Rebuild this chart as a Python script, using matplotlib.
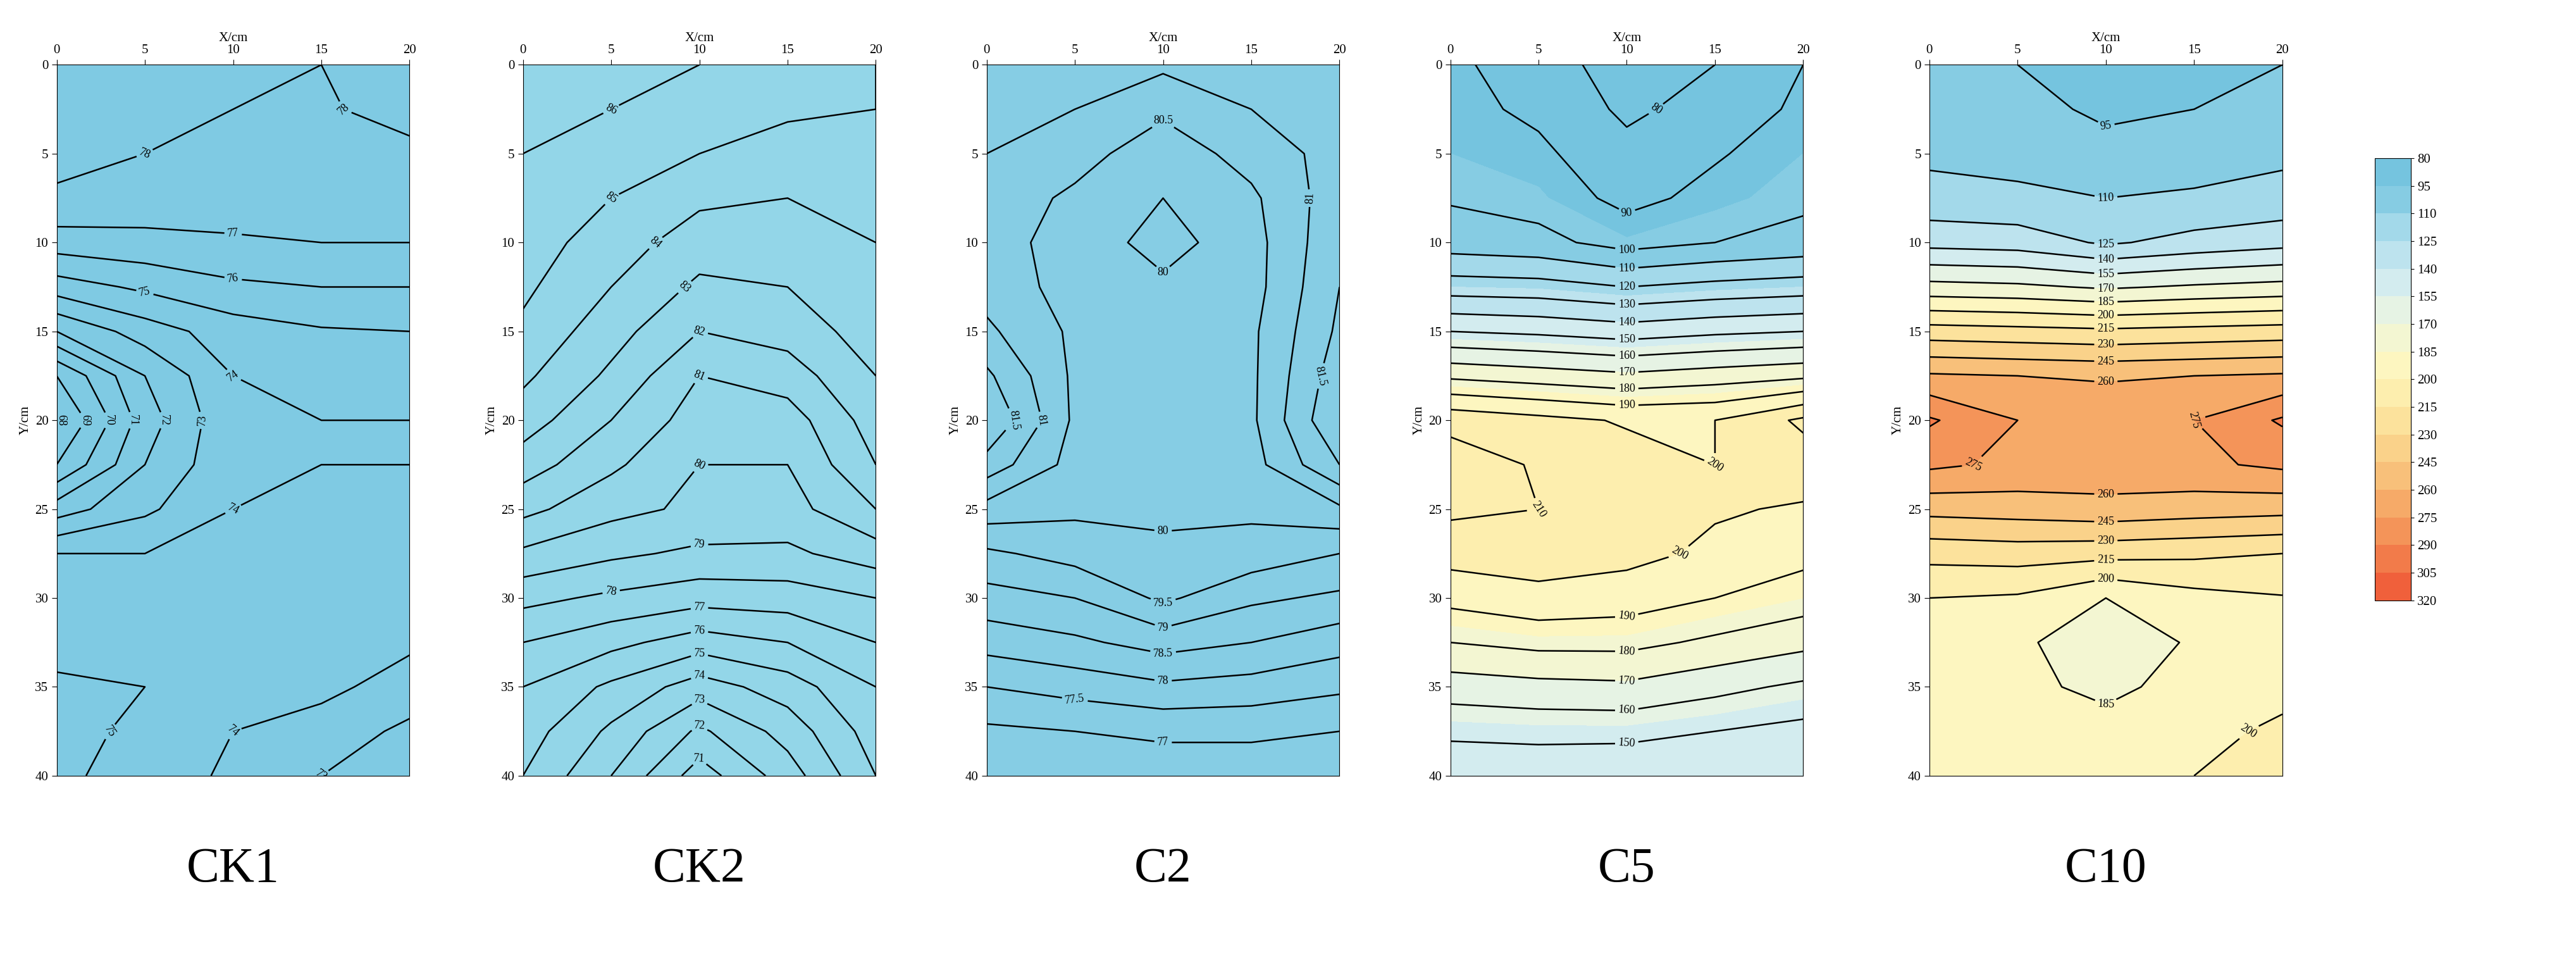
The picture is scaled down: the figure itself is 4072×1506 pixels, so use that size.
import numpy as np
import matplotlib.pyplot as plt
from matplotlib.colors import ListedColormap, BoundaryNorm

plt.rcParams['font.family'] = ['Liberation Serif', 'DejaVu Serif']

x_cm = [0, 5, 10, 15, 20]
y_cm = [0, 2.5, 5, 7.5, 10, 12.5, 15, 17.5, 20, 22.5, 25, 27.5, 30, 32.5, 35, 37.5, 40]

ck1 = [[78.5, 78.3, 78.1, 78.0, 79], [78.3, 78.1, 78, 77.9, 78.3], [78.2, 78, 77.8, 77.6, 77.8],
       [77.9, 77.6, 77.4, 77.3, 77.3], [76.5, 76.7, 76.9, 77, 77], [74.5, 75.2, 75.8, 76, 76],
       [72, 73.5, 74.5, 74.9, 75], [69, 72, 74, 74.2, 74.5], [67.8, 71.5, 73.8, 74, 74],
       [69, 72, 73.8, 74, 74], [71.5, 72.8, 74, 74.4, 74.8], [74, 74, 74.2, 74.6, 75],
       [74.5, 74.5, 74.4, 74.8, 74.6], [74.6, 74.8, 75, 74.8, 74.2], [75.2, 75, 74.6, 74.3, 73.5],
       [75.3, 74.8, 74, 73.5, 72.8], [75.2, 74.6, 73.8, 73, 72.2]]
ck2 = [[87, 86.5, 86, 85.5, 85], [86.5, 86, 85.5, 85.2, 85], [86, 85.5, 85, 84.5, 84.5],
       [85.8, 85, 84.2, 84, 84.2], [85.5, 84.5, 83.5, 83.6, 84], [85.2, 84, 82.8, 83, 83.8],
       [84.8, 83.4, 82, 82.4, 83.5], [84.2, 82.8, 81, 81.5, 83], [83.5, 82, 80.5, 80.5, 82.5],
       [82.5, 81.2, 80, 80, 82], [81.3, 80.3, 79.8, 79.6, 81], [79.8, 79.2, 78.8, 78.8, 79.5],
       [78.3, 77.8, 77.4, 77.5, 78], [77, 76.3, 75.5, 76, 77], [76, 74.8, 73.5, 74.5, 76],
       [75.5, 73.8, 71.8, 73.4, 75.5], [75, 73, 70.5, 72.5, 75]]
c2 = [[81.3, 81.2, 81.1, 81.2, 81.4], [81.2, 81, 80.6, 81, 81.3], [81.0, 80.7, 80.2, 80.7, 81.2],
      [80.8, 80.4, 80, 80.4, 81.3], [80.7, 80.3, 79.8, 80.3, 81.4], [80.8, 80.3, 80.1, 80.3, 81.5],
      [81.1, 80.4, 80.3, 80.4, 81.6], [81.6, 80.4, 80.3, 80.4, 81.8], [82, 80.4, 80.1, 80.4, 82],
      [81.3, 80.3, 80.2, 80.3, 81.5], [80.3, 80.1, 80.1, 80.1, 80.4], [79.4, 79.7, 79.9, 79.8, 79.5],
      [78.8, 79, 79.6, 79.1, 78.9], [78.2, 78.4, 78.7, 78.5, 78.2], [77.5, 77.7, 77.9, 77.8, 77.6],
      [76.9, 77, 77.1, 77.1, 77], [76.6, 76.6, 76.7, 76.7, 76.5]]
c5 = [[92, 85, 75, 80, 90], [93, 88, 78, 84, 92], [95, 92, 83, 89, 95], [99, 96, 87, 93, 98],
      [105, 103, 96, 100, 103], [125, 124, 120, 123, 125], [150, 148, 145, 148, 150],
      [178, 175, 172, 175, 178], [207, 203, 199, 200, 212], [215, 209, 204, 200, 205],
      [212, 210, 205, 201, 199], [204, 205, 203, 198, 193], [193, 197, 195, 190, 185],
      [180, 183, 183, 178, 173], [165, 167, 168, 163, 158], [152, 153, 153, 150, 147],
      [143, 143, 142, 141, 140]]
c10 = [[100, 95, 85, 90, 95], [103, 100, 92, 95, 100], [107, 105, 100, 103, 107],
       [115, 113, 110, 112, 115], [135, 133, 123, 130, 135], [175, 173, 168, 172, 175],
       [222, 220, 218, 220, 222], [262, 260, 258, 260, 262], [292, 275, 272, 275, 292],
       [278, 272, 270, 272, 278], [250, 252, 255, 252, 250], [220, 222, 220, 218, 215],
       [200, 198, 185, 195, 199], [190, 188, 175, 187, 190], [188, 187, 183, 188, 192],
       [187, 187, 188, 192, 205], [186, 187, 190, 200, 212]]

names = ['CK1', 'CK2', 'C2', 'C5', 'C10']
fields = [ck1, ck2, c2, c5, c10]
line_levels = [np.arange(67, 80, 1), np.arange(70, 88, 1), np.arange(76.5, 82.5, 0.5),
               np.array([80] + list(range(90, 220, 10))), np.arange(95, 300, 15)]
flat_colors = ['#7fcae3', '#93d6e8', '#86cde4', None, None]

cbar_levels = list(range(80, 321, 15))
cbar_colors = ['#75c4df', '#86cce3', '#a3d9ea', '#bde3ee', '#d3ecef', '#e6f3e4', '#f3f6d2',
               '#fdf6c0', '#fdeeae', '#fce29c', '#fad28a', '#f8c07a', '#f6aa68', '#f49459',
               '#f27b4a', '#f0603b']
cmap = ListedColormap(cbar_colors)
cmap.set_under(cbar_colors[0])
norm = BoundaryNorm(cbar_levels, cmap.N)

fig = plt.figure(figsize=(40.72, 15.06), dpi=100)
lefts = [0.022, 0.203, 0.383, 0.563, 0.749]
X, Y = np.meshgrid(x_cm, y_cm)

for i in range(5):
    ax = fig.add_axes([lefts[i], 0.186, 0.137, 0.746])
    Z = np.array(fields[i])
    if flat_colors[i]:
        ax.contourf(X, Y, Z, levels=[Z.min() - 1, Z.max() + 1], colors=[flat_colors[i]])
    else:
        ax.contourf(X, Y, Z, levels=[0] + cbar_levels + [400], cmap=cmap, norm=norm)
    cs = ax.contour(X, Y, Z, levels=line_levels[i], colors='black', linewidths=1.8)
    ax.clabel(cs, fontsize=13, fmt=lambda v: f'{v:g}', inline=True)
    ax.set_xlim(0, 20)
    ax.set_ylim(40, 0)
    ax.xaxis.tick_top()
    ax.xaxis.set_label_position('top')
    ax.set_xticks([0, 5, 10, 15, 20])
    ax.set_yticks(range(0, 41, 5))
    ax.tick_params(labelsize=15, direction='out', length=6)
    ax.set_xlabel('X/cm', fontsize=15)
    ax.set_ylabel('Y/cm', fontsize=15)
    ax.text(0.5, -0.1, names[i], transform=ax.transAxes, ha='center', va='top', fontsize=56)

cax = fig.add_axes([0.922, 0.37, 0.014, 0.464])
sm = plt.cm.ScalarMappable(cmap=cmap, norm=norm)
cb = fig.colorbar(sm, cax=cax, ticks=cbar_levels, drawedges=True)
cb.ax.invert_yaxis()
cb.ax.tick_params(labelsize=15)
cb.dividers.set_color('black')

fig.savefig('out.png', dpi=100)
